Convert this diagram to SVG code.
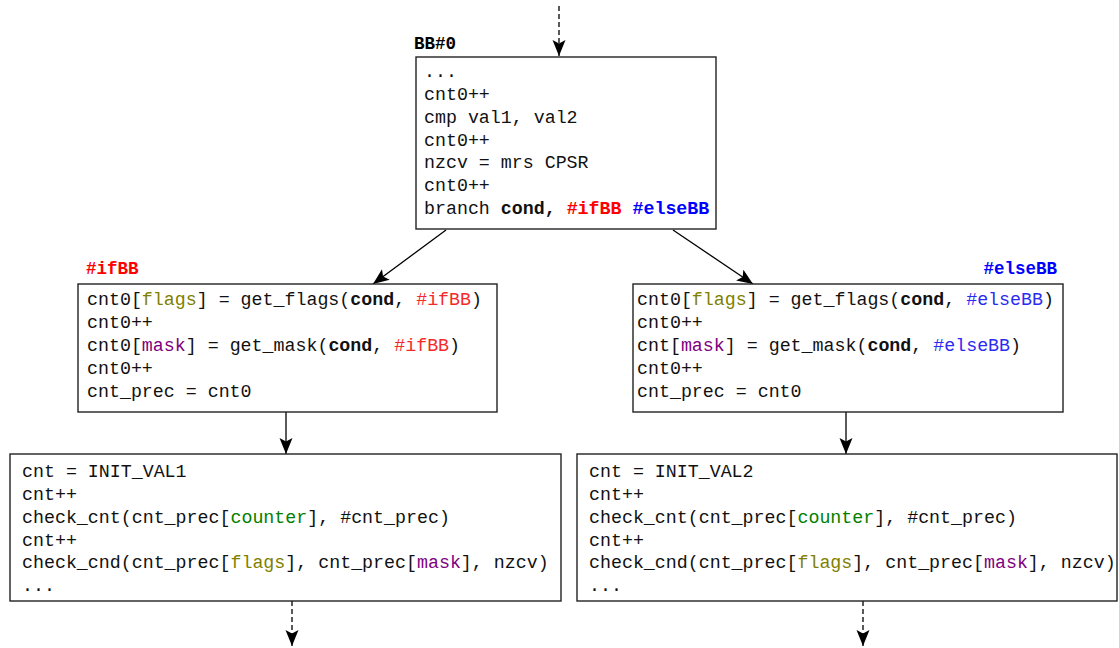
<svg xmlns="http://www.w3.org/2000/svg" width="1119" height="648" viewBox="0 0 1119 648">
<style>
  .box { fill: #ffffff; stroke: #222222; stroke-width: 1.4; }
  .code { font-family: "Liberation Mono", "Courier New", monospace; font-size: 18.3px; fill: #111111; }
  .lbl { font-family: "Liberation Mono", "Courier New", monospace; font-size: 17.5px; font-weight: bold; }
  .b { font-weight: bold; }
  .red { fill: #ff0000; }
  .redl { fill: #f42a2a; }
  .blue { fill: #0000ff; }
  .bluel { fill: #2b2bf0; }
  .olive { fill: #808000; }
  .purple { fill: #800080; }
  .green { fill: #008000; }
  .edge { stroke: #000000; stroke-width: 1.3; fill: none; marker-end: url(#ah); }
  .dash { stroke-dasharray: 5 3; }
</style>
<defs>
  <marker id="ah" markerUnits="userSpaceOnUse" markerWidth="18" markerHeight="14" refX="16" refY="6.5" orient="auto">
    <path d="M0,0 L16,6.5 L0,13 L3.5,6.5 z" fill="#000000"/>
  </marker>
</defs>
<rect width="1119" height="648" fill="#ffffff"/>

<g id="connectors">
  <line class="edge dash" x1="559" y1="6" x2="559" y2="56"/>
  <line class="edge" x1="446" y1="230" x2="373" y2="284"/>
  <line class="edge" x1="673" y1="230" x2="753" y2="284"/>
  <line class="edge" x1="286" y1="412" x2="286" y2="454"/>
  <line class="edge" x1="846" y1="412" x2="846" y2="454"/>
  <line class="edge dash" x1="292" y1="601" x2="292" y2="646"/>
  <line class="edge dash" x1="863" y1="601" x2="863" y2="646"/>
</g>

<g id="bb0">
  <text class="lbl" x="414" y="49" fill="#000000">BB#0</text>
  <rect class="box" x="416" y="57" width="300" height="172"/>
  <text class="code" x="424" y="77">...</text>
  <text class="code" x="424" y="100">cnt0++</text>
  <text class="code" x="424" y="123">cmp val1, val2</text>
  <text class="code" x="424" y="145.5">cnt0++</text>
  <text class="code" x="424" y="168">nzcv = mrs CPSR</text>
  <text class="code" x="424" y="191">cnt0++</text>
  <text class="code" x="424" y="214">branch <tspan class="b">cond,</tspan> <tspan class="b red">#ifBB</tspan> <tspan class="b blue">#elseBB</tspan></text>
</g>

<g id="ifBB">
  <text class="lbl red" x="86" y="274">#ifBB</text>
  <rect class="box" x="78" y="284" width="419" height="128"/>
  <text class="code" x="87" y="305">cnt0[<tspan class="olive">flags</tspan>] = get_flags(<tspan class="b">cond</tspan>, <tspan class="redl">#ifBB</tspan>)</text>
  <text class="code" x="87" y="328">cnt0++</text>
  <text class="code" x="87" y="351">cnt0[<tspan class="purple">mask</tspan>] = get_mask(<tspan class="b">cond</tspan>, <tspan class="redl">#ifBB</tspan>)</text>
  <text class="code" x="87" y="374">cnt0++</text>
  <text class="code" x="87" y="397">cnt_prec = cnt0</text>
</g>

<g id="elseBB">
  <text class="lbl blue" x="1057" y="274" text-anchor="end">#elseBB</text>
  <rect class="box" x="633" y="284" width="430" height="128"/>
  <text class="code" x="637" y="305">cnt0[<tspan class="olive">flags</tspan>] = get_flags(<tspan class="b">cond</tspan>, <tspan class="bluel">#elseBB</tspan>)</text>
  <text class="code" x="637" y="328">cnt0++</text>
  <text class="code" x="637" y="351">cnt[<tspan class="purple">mask</tspan>] = get_mask(<tspan class="b">cond</tspan>, <tspan class="bluel">#elseBB</tspan>)</text>
  <text class="code" x="637" y="374">cnt0++</text>
  <text class="code" x="637" y="397">cnt_prec = cnt0</text>
</g>

<g id="checkIf">
  <rect class="box" x="10" y="454" width="551" height="147"/>
  <text class="code" x="22" y="477">cnt = INIT_VAL1</text>
  <text class="code" x="22" y="500">cnt++</text>
  <text class="code" x="22" y="523">check_cnt(cnt_prec[<tspan class="green">counter</tspan>], #cnt_prec)</text>
  <text class="code" x="22" y="545.5">cnt++</text>
  <text class="code" x="22" y="568">check_cnd(cnt_prec[<tspan class="olive">flags</tspan>], cnt_prec[<tspan class="purple">mask</tspan>], nzcv)</text>
  <text class="code" x="22" y="591">...</text>
</g>

<g id="checkElse">
  <rect class="box" x="577" y="454" width="540" height="147"/>
  <text class="code" x="589" y="477">cnt = INIT_VAL2</text>
  <text class="code" x="589" y="500">cnt++</text>
  <text class="code" x="589" y="523">check_cnt(cnt_prec[<tspan class="green">counter</tspan>], #cnt_prec)</text>
  <text class="code" x="589" y="545.5">cnt++</text>
  <text class="code" x="589" y="568">check_cnd(cnt_prec[<tspan class="olive">flags</tspan>], cnt_prec[<tspan class="purple">mask</tspan>], nzcv)</text>
  <text class="code" x="589" y="591">...</text>
</g>
</svg>
